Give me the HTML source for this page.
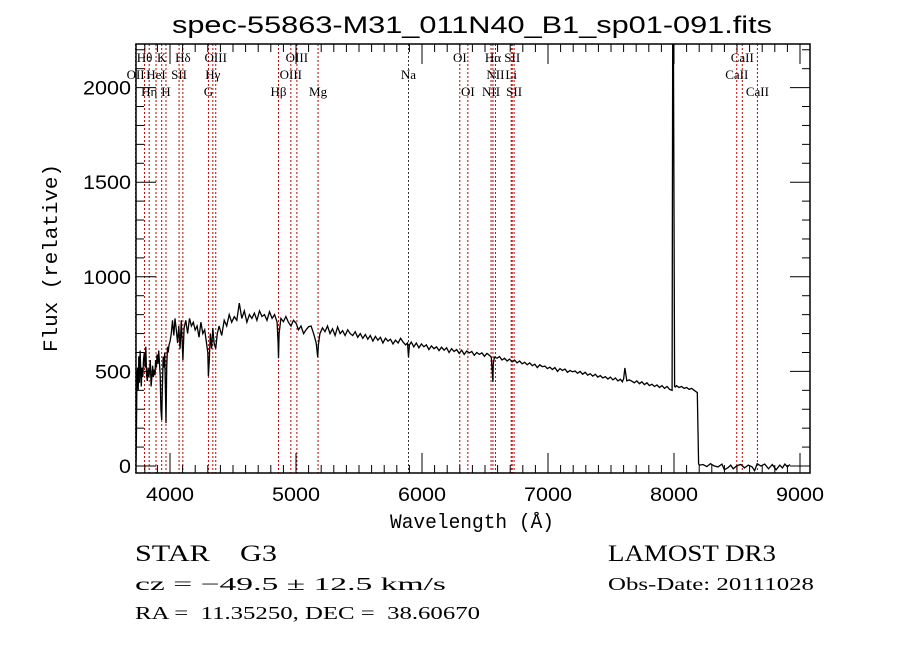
<!DOCTYPE html>
<html><head><meta charset="utf-8"><style>
html,body{margin:0;padding:0;background:#fff;}
svg{display:block;}
text{font-family:"Liberation Serif","DejaVu Serif",serif;fill:#000;white-space:pre;}
</style></head><body>
<svg id="chart" width="900" height="649" viewBox="0 0 900 649" xmlns="http://www.w3.org/2000/svg" xml:space="preserve">
<rect width="900" height="649" fill="#fff"/>
<text x="472" y="33" font-size="24" text-anchor="middle" textLength="600" lengthAdjust="spacingAndGlyphs" style="font-family:'Liberation Sans',sans-serif">spec-55863-M31_011N40_B1_sp01-091.fits</text>
<g id="lines"></g>
<g id="linelabels"></g>
<g id="spec"></g>
<g id="axes"></g>
<text x="472" y="528" font-size="20" text-anchor="middle" textLength="164" lengthAdjust="spacingAndGlyphs" style="font-family:'Liberation Mono',monospace">Wavelength (Å)</text>
<text transform="translate(57,258) rotate(-90)" font-size="20" text-anchor="middle" textLength="188" lengthAdjust="spacingAndGlyphs" style="font-family:'Liberation Mono',monospace">Flux (relative)</text>
<text x="135" y="561" font-size="23" textLength="142" lengthAdjust="spacingAndGlyphs" xml:space="preserve">STAR    G3</text>
<text x="608" y="561" font-size="23" textLength="168" lengthAdjust="spacingAndGlyphs">LAMOST DR3</text>
<text x="135" y="590" font-size="18" textLength="311" lengthAdjust="spacingAndGlyphs">cz = −49.5 ± 12.5 km/s</text>
<text x="608" y="590" font-size="18" textLength="206" lengthAdjust="spacingAndGlyphs">Obs-Date: 20111028</text>
<text x="135" y="619" font-size="18" textLength="345" lengthAdjust="spacingAndGlyphs" xml:space="preserve">RA =  11.35250, DEC =  38.60670</text>
</svg>
<script>
const specWave = [3730,3733,3737,3742,3748,3752,3758,3763,3768,3772,3778,3784,3790,3796,3802,3808,3814,3820,3826,3832,3838,3844,3850,3856,3862,3868,3874,3880,3886,3892,3898,3904,3910,3916,3922,3928,3934,3940,3946,3952,3958,3964,3968,3974,3980,3986,3992,4000,4010,4020,4030,4040,4050,4060,4070,4080,4090,4102,4112,4125,4140,4155,4170,4185,4200,4215,4230,4245,4260,4275,4290,4300,4305,4312,4320,4330,4340,4350,4363,4375,4390,4410,4430,4450,4470,4490,4510,4530,4550,4570,4590,4610,4630,4650,4670,4690,4710,4730,4750,4770,4790,4810,4830,4850,4858,4861,4866,4880,4900,4920,4940,4960,4980,5000,5020,5040,5060,5080,5100,5120,5140,5160,5172,5178,5190,
5210,5230,5250,5270,5290,5310,5330,5350,5370,5390,5410,5430,5450,5470,5490,5510,5530,5550,5570,5590,5610,5630,5650,5670,5690,5710,5730,5750,5770,5790,5810,5830,5850,5870,5885,5893,5900,5915,5935,5955,5975,5995,6015,6035,6055,6075,6095,6115,6135,6155,6175,6195,6215,6235,6255,6275,6295,6315,6335,6355,6375,6395,6415,6435,6455,6475,6495,6515,6535,6550,6560,6563,6566,6575,6595,6615,6635,6655,6675,6695,6715,6735,6755,6775,6795,6815,6835,6855,6875,6895,6915,6935,6955,6975,6995,7015,7035,7055,7075,7095,7115,7135,7155,7175,7195,7215,7235,7255,7275,7295,7315,7335,7355,7375,7395,7415,7435,7455,7475,7495,7515,7535,7555,7575,7590,7600,7610,7625,7645,7665,7685,7705,7725,7745,7765,7785,7805,7825,7845,7865,7885,7905,7925,7945,7965,7985,7990,7995,8005,8012,8020,8040,8060,8080,8100,8120,8140,8160,8185,8195,8205,8230,8260,8290,8320,8350,8380,8400,8430,8450,8470,8500,8530,8560,8590,8620,8640,8660,8690,8720,8750,8780,8810,8840,8860,8880,8900,8920,8950,8980,9000];
const specFlux = [20,160,470,520,400,580,440,610,500,420,520,470,560,600,520,630,480,450,520,470,500,560,420,470,530,470,510,480,560,520,590,540,610,550,480,300,243,420,578,520,600,380,227,520,630,600,640,657,700,770,690,780,720,650,740,620,770,560,730,770,700,780,740,760,719,740,680,760,700,720,650,600,475,560,700,620,730,650,620,700,740,690,770,740,800,760,789,770,861,780,820,760,800,780,808,770,820,790,800,770,815,780,800,760,650,570,700,780,763,790,760,740,770,756,720,740,700,720,736,740,700,650,575,640,700,
730,710,740,700,725,690,735,700,715,690,720,700,690,710,680,700,675,695,670,690,660,685,665,680,650,675,660,670,645,665,650,675,655,640,650,576,640,655,630,650,625,645,630,640,615,635,620,630,610,628,612,625,600,620,605,615,595,612,590,608,598,605,585,600,590,598,580,595,585,575,470,444,540,575,570,578,560,570,555,565,550,560,545,555,540,548,535,545,530,538,520,535,525,528,515,522,510,520,500,515,505,512,495,505,498,502,490,500,485,495,480,488,475,485,470,478,465,472,460,470,455,465,450,458,445,460,518,450,455,448,440,450,435,445,430,440,425,432,420,428,415,425,410,420,405,400,2300,2300,420,418,425,415,420,410,415,405,410,400,388,10,5,8,-3,12,0,-5,10,-20,-8,5,-15,2,8,-10,5,-5,-25,12,0,10,-15,8,-20,5,-10,10,-5,8];
const lineWave = [3727,3798,3835,3889,3934,3968,4072,4102,4305,4340,4363,4861,4959,5007,5175,5893,6300,6364,6548,6563,6583,6708,6716,6731,8498,8542,8662];
const lineName = ["OII","Hθ","Hη","HeI","K","H","SII","Hδ","G","Hγ","OIII","Hβ","OIII","OIII","Mg","Na","OI","OI","NII","Hα","NII","Li","SII","SII","CaII","CaII","CaII"];
const lineRow = [1,0,2,1,0,2,1,0,2,1,0,2,1,0,2,1,0,2,2,0,1,1,0,2,1,0,2];
const xTicks = [4000,5000,6000,7000,8000,9000];
const yTicks = [0,500,1000,1500,2000];

const L=136,R=810,T=44,B=473;
const X=w=>170+(w-4000)*0.126;
const Y=f=>466-f*0.1892;
const NS='http://www.w3.org/2000/svg';
function mk(tag,attrs,parent){const e=document.createElementNS(NS,tag);for(const k in attrs)e.setAttribute(k,attrs[k]);parent.appendChild(e);return e;}

const gl=document.getElementById('lines'), glab=document.getElementById('linelabels');
const rowY=[62,79,96];
lineWave.forEach((w,i)=>{
  const ln=mk('line',{x1:X(w),x2:X(w),y1:T,y2:B,stroke:lineName[i]==='Na'?'#333':'#c00000','stroke-width':1,'stroke-dasharray':'2,2'},gl);
  
  
  const t=mk('text',{x:X(w),y:rowY[lineRow[i]],'font-size':13,'text-anchor':'middle'},glab);
  t.textContent=lineName[i];
  
  
});

const gs=document.getElementById('spec');
const clip=mk('clipPath',{id:'pc'},gs);mk('rect',{x:L,y:T,width:R-L,height:B-T},clip);
let d='';
specWave.forEach((w,i)=>{d+=(i?'L':'M')+X(w).toFixed(1)+','+Y(specFlux[i]).toFixed(1);});
const p=mk('path',{d:d,fill:'none',stroke:'#000','stroke-width':1.3,'clip-path':'url(#pc)'},gs);



const ga=document.getElementById('axes');
const fr=mk('rect',{x:L,y:T,width:R-L,height:B-T,fill:'none',stroke:'#000','stroke-width':1.5},ga);


for(let w=3800;w<=9000;w+=100){
  const maj=w%1000===0, len=maj?20:8;
  mk('line',{x1:X(w),x2:X(w),y1:B,y2:B-len,stroke:'#000','stroke-width':1},ga);
  mk('line',{x1:X(w),x2:X(w),y1:T,y2:T+len,stroke:'#000','stroke-width':1},ga);
}
for(let f=0;f<=2200;f+=100){
  const maj=f%500===0, len=maj?20:8;
  mk('line',{x1:L,x2:L+len,y1:Y(f),y2:Y(f),stroke:'#000','stroke-width':1},ga);
  mk('line',{x1:R,x2:R-len,y1:Y(f),y2:Y(f),stroke:'#000','stroke-width':1},ga);
}
xTicks.forEach(v=>{
  const t=mk('text',{x:X(v),y:501,'font-size':19,'text-anchor':'middle',textLength:48,lengthAdjust:'spacingAndGlyphs',style:"font-family:'Liberation Sans',sans-serif"},ga);
  t.textContent=v;
  
  
});
yTicks.forEach(v=>{
  const s=String(v);
  const t=mk('text',{x:131,y:Y(v)+7,'font-size':19,'text-anchor':'end',textLength:12*s.length,lengthAdjust:'spacingAndGlyphs',style:"font-family:'Liberation Sans',sans-serif"},ga);
  t.textContent=s;
  
  
});
</script>
</body></html>
